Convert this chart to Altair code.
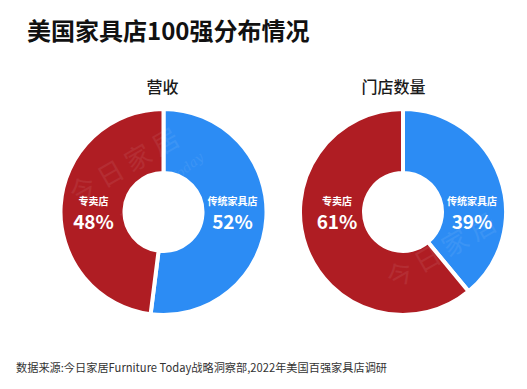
import altair as alt
import pandas as pd

title_text = "美国家具店100强分布情况"
source_text = "数据来源:今日家居Furniture Today战略洞察部,2022年美国百强家具店调研"
metrics = ["营收", "门店数量"]
categories = ["传统家具店", "专卖店"]
revenue_share = [52, 48]
store_share = [39, 61]
colors = ["#2C8CF4", "#AF1D23"]
watermark_cn = "今 日 家 居"
watermark_en = "FurnitureToday"

rows = []
for m, vals in zip(metrics, [revenue_share, store_share]):
    for i, (c, v) in enumerate(zip(categories, vals)):
        rows.append({"metric": m, "category": c, "value": v, "idx": i, "pct": f"{v}%"})
df = pd.DataFrame(rows)

FONT = "Noto Sans CJK SC"
base = alt.Chart(df)

# layout (pixel positions inside the chart)
centers = {"营收": (155.5, 204), "门店数量": (395, 204)}
title_pos = {"营收": (154.5, 80), "门店数量": (385.5, 80)}
label_dx = {"营收": {"传统家具店": 69, "专卖店": -70}, "门店数量": {"传统家具店": 69, "专卖店": -66}}

layers = []
for m in metrics:
    cx, cy = centers[m]
    arc = base.transform_filter(alt.datum.metric == m).mark_arc(
        outerRadius=103, innerRadius=39, stroke="white", strokeWidth=4
    ).encode(
        theta=alt.Theta("value:Q", stack=True),
        color=alt.Color("category:N", scale=alt.Scale(domain=categories, range=colors), legend=None),
        order=alt.Order("idx:Q"),
        x=alt.value(cx),
        y=alt.value(cy),
    )
    layers.append(arc)
    for c in categories:
        dx = label_dx[m][c]
        sel = base.transform_filter((alt.datum.metric == m) & (alt.datum.category == c))
        name = sel.mark_text(font=FONT, fontSize=10, fontWeight="bold", color="white",
                             align="center", baseline="middle").encode(
            text="category:N", x=alt.value(cx + dx), y=alt.value(cy - 10))
        pct = sel.mark_text(font=FONT, fontSize=19, fontWeight="bold", color="white",
                            align="center", baseline="middle").encode(
            text="pct:N", x=alt.value(cx + dx), y=alt.value(cy + 11))
        layers += [name, pct]
    tx, ty = title_pos[m]
    sub = alt.Chart(pd.DataFrame({"t": [m]})).mark_text(
        font=FONT, fontSize=16, fontWeight=500, color="#1a1a1a", align="center", baseline="middle"
    ).encode(text="t:N", x=alt.value(tx), y=alt.value(ty))
    layers.append(sub)

# very faint watermarks
wm = []
for (x, y, ang, size, txt, fnt) in [
    (117, 159, 330, 26, watermark_cn, FONT),
    (154, 180, 321, 13, watermark_en, "DejaVu Serif"),
    (434, 244, 330, 26, watermark_cn, FONT),
]:
    wm.append(alt.Chart(pd.DataFrame({"t": [txt]})).mark_text(
        font=fnt, fontSize=size, color="#ffffff", opacity=0.07, angle=ang,
        align="center", baseline="middle", fontStyle="italic" if fnt != FONT else "normal"
    ).encode(text="t:N", x=alt.value(x), y=alt.value(y)))

title = alt.Chart(pd.DataFrame({"t": [title_text]})).mark_text(
    font=FONT, fontSize=24, fontWeight="bold", color="#111111", align="left", baseline="middle"
).encode(text="t:N", x=alt.value(19), y=alt.value(25))
source = alt.Chart(pd.DataFrame({"t": [source_text]})).mark_text(
    font=FONT, fontSize=11.2, color="#333333", align="left", baseline="middle"
).encode(text="t:N", x=alt.value(8), y=alt.value(361))

chart = alt.layer(title, source, *layers, *wm).properties(
    width=511, height=373, autosize=alt.AutoSizeParams(type="none"), padding=0,
    background="white"
).configure_view(stroke=None)

chart.save("out.html", embed_options={"renderer": "svg", "actions": False})
